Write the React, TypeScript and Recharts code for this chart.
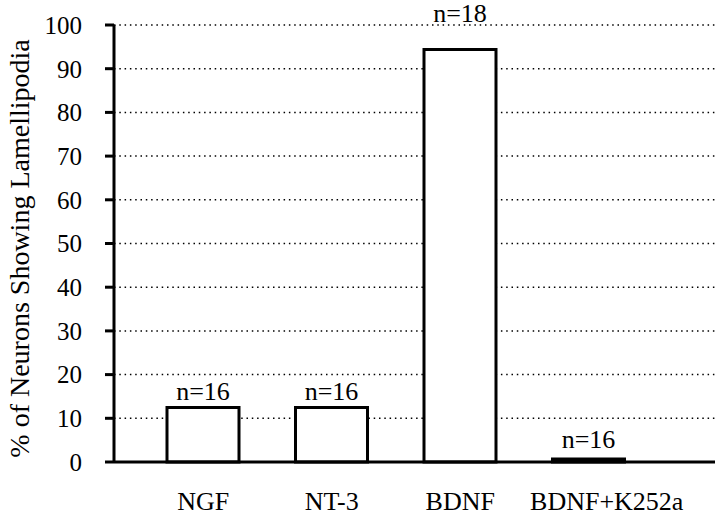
import React from "react";
import { BarChart, Bar, XAxis, YAxis, CartesianGrid, Cell, LabelList } from "recharts";

const categories = ["NGF", "NT-3", "BDNF", "BDNF+K252a"];
const percentValues = [12.5, 12.5, 94.4, 0.7];
const sampleLabels = ["n=16", "n=16", "n=18", "n=16"];
const yTicks = [0, 10, 20, 30, 40, 50, 60, 70, 80, 90, 100];

const data = categories.map((name, i) => ({
  name,
  value: percentValues[i],
  n: sampleLabels[i],
}));

// style constants (label spacing above bars, x label shifts)
const labelGaps = [7, 7, 27, 11];
const xLabelShift = [0, 0, 0, 18];
const barFills = ["#fff", "#fff", "#fff", "#000"];

const FONT = "'Liberation Serif', 'Times New Roman', serif";

const XTick = (props: any) => {
  const { x, y, payload, index } = props;
  return (
    <text x={x + (xLabelShift[index] || 0)} y={y + 48} textAnchor="middle" fontFamily={FONT} fontSize={26} fill="#000">
      {payload.value}
    </text>
  );
};

const NLabel = (props: any) => {
  const { x, y, width, index, value } = props;
  return (
    <text x={x + width / 2} y={y - labelGaps[index]} textAnchor="middle" fontFamily={FONT} fontSize={26} fill="#000">
      {value}
    </text>
  );
};

const YTitle = (props: any) => {
  const vb = props.viewBox || { x: 0, y: 25, width: 114, height: 437 };
  const cx = vb.x + 29;
  const cy = vb.y + vb.height / 2 + 5;
  return (
    <text x={cx} y={cy} transform={`rotate(-90, ${cx}, ${cy})`} textAnchor="middle" fontFamily={FONT} fontSize={28} fill="#000">
      % of Neurons Showing Lamellipodia
    </text>
  );
};

export default function App() {
  return (
    <div style={{ position: "absolute", left: 0, top: 0, width: 720, height: 517, background: "#fff" }}>
      <BarChart width={720} height={517} data={data} margin={{ top: 25, right: 5, bottom: 0, left: 0 }}>
        <CartesianGrid horizontal vertical={false} stroke="#000" strokeWidth={1.5} strokeDasharray="1.5 3.8" />
        <XAxis
          dataKey="name"
          padding={{ left: 25, right: 62 }}
          axisLine={{ stroke: "#000", strokeWidth: 3 }}
          tickLine={false}
          tickSize={0}
          tickMargin={0}
          height={55}
          tick={<XTick />}
          interval={0}
        />
        <YAxis
          width={114}
          domain={[0, 100]}
          ticks={yTicks}
          interval={0}
          axisLine={{ stroke: "#000", strokeWidth: 3 }}
          tickLine={{ stroke: "#000", strokeWidth: 3 }}
          tickSize={9}
          tickMargin={23}
          tick={{ fontFamily: FONT, fontSize: 25, fill: "#000" }}
          label={<YTitle />}
        />
        <Bar dataKey="value" barSize={72} stroke="#000" strokeWidth={3} isAnimationActive={false}>
          {data.map((d, i) => (
            <Cell key={d.name} fill={barFills[i]} />
          ))}
          <LabelList dataKey="n" content={<NLabel />} />
        </Bar>
      </BarChart>
    </div>
  );
}
